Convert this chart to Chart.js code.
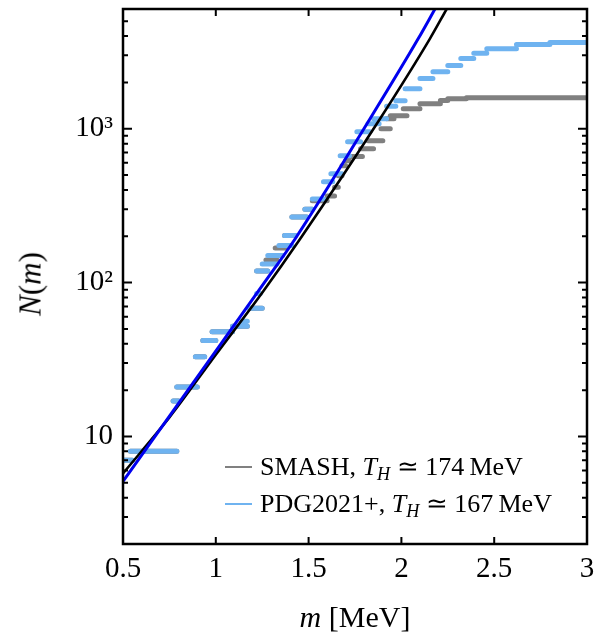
<!DOCTYPE html>
<html>
<head>
<meta charset="utf-8">
<script src="https://cdn.jsdelivr.net/npm/chart.js@4.4.0/dist/chart.umd.min.js"></script>
<style>
  body { margin:0; background:#fff; }
  #wrap { position:relative; width:605px; height:641px; font-family:"Liberation Serif", serif; color:#000; }
  #c { position:absolute; left:0; top:0; }
  .lab { position:absolute; white-space:nowrap; line-height:1; }
  .key { position:absolute; width:27px; height:2px; }
  sub { font-size:0.7em; vertical-align:-0.3em; line-height:0; }
</style>
</head>
<body>
<div id="wrap">
  <canvas id="c" width="605" height="641"></canvas>
  <div class="lab" style="left:30px;top:284px;font-size:31px;transform:translate(-50%,-50%) rotate(-90deg)"><i>N</i>(<i>m</i>)</div>
  <div class="lab" style="left:355px;top:617px;font-size:30px;transform:translate(-50%,-50%)"><i>m</i> [MeV]</div>
  <div class="key" style="left:225px;top:466px;background:#808080"></div>
  <div class="lab" style="left:260px;top:467px;font-size:26px;transform:translateY(-50%)">SMASH, <i>T</i><sub><i>H</i></sub> &#8771; 174&#8201;MeV</div>
  <div class="key" style="left:225px;top:503px;background:#6fb3f0"></div>
  <div class="lab" style="left:260px;top:504px;font-size:26px;transform:translateY(-50%)">PDG2021+, <i>T</i><sub><i>H</i></sub> &#8771; 167&#8201;MeV</div>
</div>
<script>
// axis ticks
var xTicks = [0.5, 1, 1.5, 2, 2.5, 3];
var xTickText = ["0.5", "1", "1.5", "2", "2.5", "3"];
var yMajor = [10, 100, 1000];
var yTickText = ["10", "10\u00b2", "10\u00b3"];

// cumulative hadron spectrum, PDG2021+ (steps: from m, to m, N)
var pdgLo = [0.50, 0.54, 0.77, 0.79, 0.89, 0.93, 0.98, 1.09, 1.14, 1.18, 1.22, 1.22, 1.25, 1.28, 1.34, 1.37, 1.41, 1.48, 1.52, 1.58, 1.62, 1.67, 1.71, 1.76, 1.82, 1.85, 1.92, 1.97, 2.02, 2.10, 2.17, 2.25, 2.32, 2.39, 2.46, 2.62, 2.80];
var pdgHi = [0.55, 0.79, 0.80, 0.90, 0.94, 1.00, 1.09, 1.17, 1.17, 1.25, 1.24, 1.28, 1.33, 1.36, 1.41, 1.43, 1.49, 1.52, 1.58, 1.63, 1.68, 1.72, 1.78, 1.83, 1.88, 1.92, 1.97, 2.02, 2.10, 2.17, 2.25, 2.32, 2.39, 2.46, 2.62, 2.80, 3.00];
var pdgN  = [7, 8, 17, 21, 33, 42, 48, 52, 56, 68, 85, 119, 132, 150, 174, 202, 267, 300, 350, 452, 509, 667, 822, 955, 1077, 1161, 1400, 1520, 1820, 2120, 2345, 2580, 2856, 3090, 3316, 3525, 3630];

// SMASH
var smashLo = [0.50, 0.54, 0.77, 0.79, 0.89, 0.93, 0.98, 1.09, 1.18, 1.22, 1.27, 1.32, 1.37, 1.41, 1.48, 1.52, 1.60, 1.64, 1.66, 1.68, 1.70, 1.72, 1.78, 1.82, 1.89, 1.92, 1.94, 2.01, 2.10, 2.21, 2.25, 2.35];
var smashHi = [0.55, 0.79, 0.80, 0.90, 0.94, 1.00, 1.09, 1.17, 1.25, 1.28, 1.33, 1.38, 1.43, 1.49, 1.52, 1.60, 1.64, 1.66, 1.68, 1.70, 1.72, 1.79, 1.85, 1.90, 1.94, 1.96, 2.03, 2.10, 2.21, 2.25, 2.35, 3.00];
var smashN  = [7, 8, 17, 21, 33, 42, 48, 52, 68, 119, 140, 168, 202, 267, 300, 340, 366, 417, 494, 575, 620, 660, 741, 836, 1000, 1161, 1216, 1350, 1455, 1528, 1565, 1590];

// Hagedorn fits
var fitSmashM = [0.5, 0.75, 1.0, 1.25, 1.454, 1.885, 2.154, 2.244];
var fitSmashN = [5.75, 13.3, 34, 86, 192, 1161, 3854, 6000];
var fitPdgM = [0.5, 0.969, 1.25, 1.427, 1.831, 2.091, 2.181];
var fitPdgN = [5.1, 31.8, 95.5, 192, 1161, 3854, 6000];

function steps(lo, hi, n){
  var out = [];
  for(var i = 0; i < n.length; i++){
    out.push({x:lo[i], y:n[i]});
    out.push({x:hi[i], y:n[i]});
    out.push({x:hi[i], y:null});
  }
  return out;
}
function pts(m, n){
  return m.map(function(v, i){ return {x:v, y:n[i]}; });
}

// inward ticks on all four sides plus the frame
var frameTicks = {
  id: "frameTicks",
  afterDatasetsDraw: function(chart){
    var ctx = chart.ctx, a = chart.chartArea, x = chart.scales.x, y = chart.scales.y;
    ctx.save();
    ctx.strokeStyle = "#000";
    ctx.lineWidth = 2;
    ctx.beginPath();
    xTicks.forEach(function(v){
      var px = x.getPixelForValue(v);
      ctx.moveTo(px, a.bottom); ctx.lineTo(px, a.bottom - 7);
      ctx.moveTo(px, a.top); ctx.lineTo(px, a.top + 7);
    });
    for(var d = 1; d <= 1000; d *= 10){
      for(var k = 1; k <= 9; k++){
        var v = d * k;
        if(v < y.min || v > y.max) continue;
        var py = y.getPixelForValue(v);
        var len = k === 1 ? 9 : 5;
        ctx.moveTo(a.left, py); ctx.lineTo(a.left + len, py);
        ctx.moveTo(a.right, py); ctx.lineTo(a.right - len, py);
      }
    }
    ctx.stroke();
    ctx.lineWidth = 2.5;
    ctx.strokeRect(a.left, a.top, a.right - a.left, a.bottom - a.top);
    ctx.restore();
  }
};

new Chart(document.getElementById("c"), {
  type: "line",
  data: {
    datasets: [
      {data: pts(fitPdgM, fitPdgN), borderColor:"#0000ee", borderWidth:3, pointRadius:0, cubicInterpolationMode:"monotone", order:0},
      {data: pts(fitSmashM, fitSmashN), borderColor:"#000", borderWidth:2.6, pointRadius:0, cubicInterpolationMode:"monotone", order:1},
      {data: steps(pdgLo, pdgHi, pdgN), borderColor:"#6fb3f0", borderWidth:5, borderCapStyle:"round", pointRadius:0, spanGaps:false, order:2},
      {data: steps(smashLo, smashHi, smashN), borderColor:"#808080", borderWidth:5, borderCapStyle:"round", pointRadius:0, spanGaps:false, order:3}
    ]
  },
  options: {
    responsive: false,
    animation: false,
    events: [],
    layout: {padding: {top:9, right:18, left:0, bottom:0}},
    plugins: {legend: {display:false}, tooltip: {enabled:false}},
    scales: {
      x: {
        type: "linear", min: 0.5, max: 3,
        grid: {display:false, drawTicks:false}, border: {display:false},
        afterBuildTicks: function(s){ s.ticks = xTicks.map(function(v){ return {value:v}; }); },
        afterFit: function(s){ s.height = 97; s.paddingLeft = 0; s.paddingRight = 0; },
        ticks: {
          autoSkip:false, maxRotation:0, padding:8, color:"#000",
          font: {family:"Liberation Serif", size:29},
          callback: function(v){ var i = xTicks.indexOf(v); return i < 0 ? "" : xTickText[i]; }
        }
      },
      y: {
        type: "logarithmic", min: 2, max: 6000,
        grid: {display:false, drawTicks:false}, border: {display:false},
        afterBuildTicks: function(s){ s.ticks = yMajor.map(function(v){ return {value:v}; }); },
        afterFit: function(s){ s.width = 123; s.paddingTop = 0; s.paddingBottom = 0; },
        ticks: {
          autoSkip:false, padding:10, color:"#000",
          font: {family:"Liberation Serif", size:29},
          callback: function(v){ var i = yMajor.indexOf(v); return i < 0 ? "" : yTickText[i]; }
        }
      }
    }
  },
  plugins: [frameTicks]
});
</script>
</body>
</html>
